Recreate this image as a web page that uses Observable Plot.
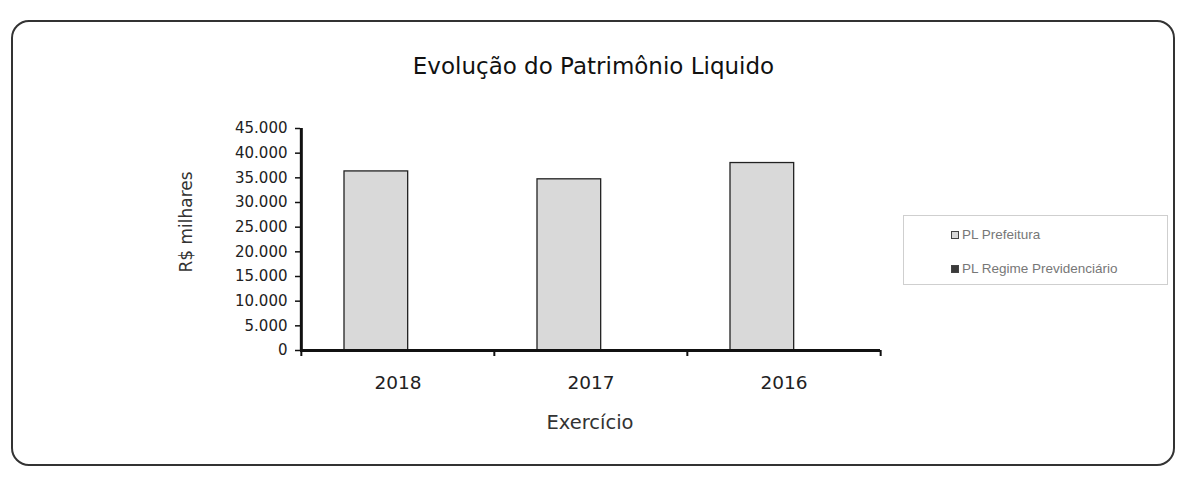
<!DOCTYPE html>
<html><head><meta charset="utf-8">
<script src="https://cdn.jsdelivr.net/npm/d3@7"></script>
<script src="https://cdn.jsdelivr.net/npm/@observablehq/plot@0.6"></script>
<style>
body{margin:0;background:#fff;font-family:"DejaVu Sans",sans-serif}
#wrap{position:relative;width:1187px;height:480px;overflow:hidden;background:#fff}
#frame{position:absolute;left:11px;top:20px;width:1164px;height:446px;border:2.5px solid #333;border-radius:18px;box-sizing:border-box}
#title{position:absolute;left:0;width:1187px;top:53px;text-align:center;font-size:23px;color:#111}
#chart{position:absolute;left:0;top:0}
#ylab{position:absolute;left:186px;top:222px;transform:translate(-50%,-50%) rotate(-90deg);font-size:17px;color:#333;white-space:nowrap}
#xlab{position:absolute;left:590px;top:422px;transform:translate(-50%,-50%);font-size:19.5px;color:#333;white-space:nowrap}
#legend{position:absolute;left:903px;top:215px;width:265px;height:70px;border:1px solid #cfcfcf;box-sizing:border-box;font-family:"Liberation Sans",Arial,sans-serif;font-size:13.5px;color:#777}
.li{position:absolute;left:47px;display:flex;align-items:center;white-space:nowrap}
.sw{width:6px;height:6px;border:1px solid #444;margin-right:3px}
</style>
</head><body>
<div id="wrap">
  <div id="frame"></div>
  <div id="title"></div>
  <div id="chart"></div>
  <div id="ylab"></div>
  <div id="xlab"></div>
  <div id="legend"></div>
</div>
<script>
const titleText = "Evolução do Patrimônio Liquido";
const yLabel = "R$ milhares";
const xLabel = "Exercício";
const years = ["2018", "2017", "2016"];
const seriesNames = ["PL Prefeitura", "PL Regime Previdenciário"];
const plPrefeitura = [36300, 34700, 38000];
const plRegime = [0, 0, 0];
const yTicks = [0, 5000, 10000, 15000, 20000, 25000, 30000, 35000, 40000, 45000];
const seriesColors = ["#d9d9d9", "#3a3a3a"];

const rowsA = years.map((y, i) => ({year: y, series: seriesNames[0], value: plPrefeitura[i]}));
const rowsB = years.map((y, i) => ({year: y, series: seriesNames[1], value: plRegime[i]}));

const W = 1187, H = 480;
const mL = 300, mR = 307, mT = 128, mB = 130;
const bw = (W - mL - mR) / years.length;
const fmt = d3.formatLocale({decimal: ",", thousands: ".", grouping: [3], currency: ["R$", ""]}).format(",");

document.getElementById("title").textContent = titleText;
document.getElementById("ylab").textContent = yLabel;
document.getElementById("xlab").textContent = xLabel;

const chart = Plot.plot({
  width: W, height: H,
  marginLeft: mL, marginRight: mR, marginTop: mT, marginBottom: mB,
  style: {fontFamily: "DejaVu Sans, sans-serif", fontSize: "15px", color: "#222", background: "transparent"},
  x: {type: "band", domain: years, padding: 0, label: null},
  y: {domain: [0, 45000], label: null},
  marks: [
    Plot.barY(rowsA, {x: "year", y: "value", fill: seriesColors[0], stroke: "#222", strokeWidth: 1.3, insetLeft: 43, insetRight: bw - 107}),
    Plot.barY(rowsB, {x: "year", y: "value", fill: seriesColors[1], stroke: "#222", strokeWidth: 1, insetLeft: 100, insetRight: bw - 157}),
    Plot.axisY({ticks: yTicks, tickFormat: fmt, tickSize: 5, tickPadding: 8, stroke: "#111", strokeWidth: 1.5, fontSize: 15, label: null}),
    Plot.axisX({tickSize: 0, tickPadding: 25, fontSize: 18.5, label: null}),
    Plot.ruleX(years, {x: d => d, y1: 0, y2: 0, insetTop: 0, insetBottom: -6, dx: -bw / 2, stroke: "#111", strokeWidth: 2}),
    Plot.ruleX([years[years.length - 1]], {x: d => d, y1: 0, y2: 0, insetTop: 0, insetBottom: -6, dx: bw / 2, stroke: "#111", strokeWidth: 2}),
    Plot.ruleX([years[0]], {x: d => d, y1: 0, y2: 45000, dx: -bw / 2, stroke: "#111", strokeWidth: 3}),
    Plot.ruleY([0], {stroke: "#111", strokeWidth: 3})
  ]
});
document.getElementById("chart").appendChild(chart);

const leg = document.getElementById("legend");
seriesNames.forEach((name, i) => {
  const item = document.createElement("div");
  item.className = "li";
  item.style.top = (i === 0 ? 11 : 45) + "px";
  const sw = document.createElement("span");
  sw.className = "sw";
  sw.style.background = seriesColors[i];
  const t = document.createElement("span");
  t.textContent = name;
  item.appendChild(sw);
  item.appendChild(t);
  leg.appendChild(item);
});
</script>
</body></html>
